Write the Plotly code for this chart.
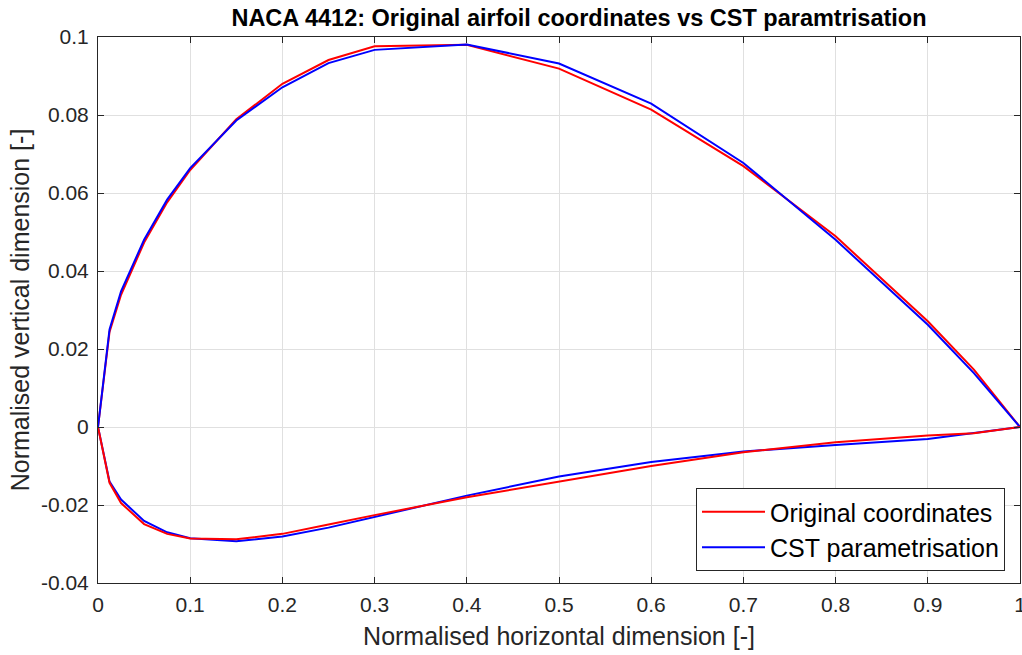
import plotly.graph_objects as go

# NACA 4412 stations, upper surface from trailing edge to leading edge
x_upper = [1.0, 0.95, 0.9, 0.8, 0.7, 0.6, 0.5, 0.4, 0.3, 0.25, 0.2, 0.15,
           0.1, 0.075, 0.05, 0.025, 0.0125, 0.0]
y_upper_orig = [0.0, 0.0147, 0.0271, 0.0489, 0.0669, 0.0814, 0.0919, 0.0980,
                0.0976, 0.0941, 0.0880, 0.0789, 0.0659, 0.0576, 0.0473,
                0.0339, 0.0244, 0.0]
y_upper_cst = [0.0, 0.0138, 0.0262, 0.0480, 0.0677, 0.0829, 0.0932, 0.0981,
               0.0967, 0.0933, 0.0871, 0.0786, 0.0664, 0.0583, 0.0480,
               0.0348, 0.0250, 0.0]

# lower surface from leading edge to trailing edge
x_lower = [0.0, 0.0125, 0.025, 0.05, 0.075, 0.1, 0.15, 0.2, 0.25, 0.3, 0.4,
           0.5, 0.6, 0.7, 0.8, 0.9, 0.95, 1.0]
y_lower_orig = [0.0, -0.0143, -0.0195, -0.0249, -0.0274, -0.0286, -0.0288,
                -0.0274, -0.0250, -0.0226, -0.0180, -0.0140, -0.0100,
                -0.0065, -0.0039, -0.0022, -0.0016, 0.0]
y_lower_cst = [0.0, -0.0140, -0.0186, -0.0241, -0.0270, -0.0285, -0.0293,
               -0.0281, -0.0258, -0.0231, -0.0176, -0.0127, -0.0090,
               -0.0063, -0.0046, -0.0031, -0.0016, 0.0]

x_ticks = [0, 0.1, 0.2, 0.3, 0.4, 0.5, 0.6, 0.7, 0.8, 0.9, 1]
x_tick_labels = ["0", "0.1", "0.2", "0.3", "0.4", "0.5", "0.6", "0.7", "0.8", "0.9", "1"]
y_ticks = [-0.04, -0.02, 0, 0.02, 0.04, 0.06, 0.08, 0.1]
y_tick_labels = ["-0.04", "-0.02", "0", "0.02", "0.04", "0.06", "0.08", "0.1"]

RED = "#ff0000"
BLUE = "#0000ff"
INK = "#262626"
FONT = "Liberation Sans, Arial, sans-serif"
LW = 2

fig = go.Figure()
fig.add_trace(go.Scatter(x=x_upper, y=y_upper_orig, mode="lines",
                         line=dict(color=RED, width=LW),
                         name="Original coordinates", legendgroup="orig"))
fig.add_trace(go.Scatter(x=x_upper, y=y_upper_cst, mode="lines",
                         line=dict(color=BLUE, width=LW),
                         name="CST parametrisation", legendgroup="cst"))
fig.add_trace(go.Scatter(x=x_lower, y=y_lower_cst, mode="lines",
                         line=dict(color=BLUE, width=LW),
                         name="CST parametrisation", legendgroup="cst",
                         showlegend=False))
fig.add_trace(go.Scatter(x=x_lower, y=y_lower_orig, mode="lines",
                         line=dict(color=RED, width=LW),
                         name="Original coordinates", legendgroup="orig",
                         showlegend=False))

axis_common = dict(
    showgrid=True, gridcolor="#e0e0e0", gridwidth=1,
    zeroline=False,
    showline=True, linecolor=INK, linewidth=1, mirror="ticks",
    ticks="inside", ticklen=6, tickcolor=INK, tickwidth=1,
    tickfont=dict(family=FONT, size=21, color=INK),
)

fig.update_layout(
    width=1022, height=655,
    margin=dict(l=98, r=2, t=37, b=72, autoexpand=False),
    paper_bgcolor="white", plot_bgcolor="white",
    font=dict(family=FONT, color=INK),
    title=dict(text="<b>NACA 4412: Original airfoil coordinates vs CST paramtrisation</b>",
               font=dict(family=FONT, size=23.5, color="#000000"),
               x=579 / 1022, xref="container", xanchor="center",
               y=1 - 18 / 655, yref="container", yanchor="middle"),
    xaxis=dict(range=[0, 1], tickvals=x_ticks, ticktext=x_tick_labels,
               ticklabeloverflow="allow", ticklabelstandoff=3,
               title=dict(text="Normalised horizontal dimension [-]",
                          font=dict(family=FONT, size=25, color=INK), standoff=12),
               **axis_common),
    yaxis=dict(range=[-0.04, 0.1], tickvals=y_ticks, ticktext=y_tick_labels,
               ticklabelstandoff=4,
               title=dict(text="Normalised vertical dimension [-]",
                          font=dict(family=FONT, size=25, color=INK), standoff=4),
               **axis_common),
    legend=dict(x=(1005 - 98) / 922, y=(583 - 571) / 546,
                xanchor="right", yanchor="bottom",
                bgcolor="white", bordercolor=INK, borderwidth=1,
                font=dict(family=FONT, size=25, color="#000000"),
                itemwidth=63, tracegroupgap=0),
    showlegend=True,
)

fig.write_html("out.html")
